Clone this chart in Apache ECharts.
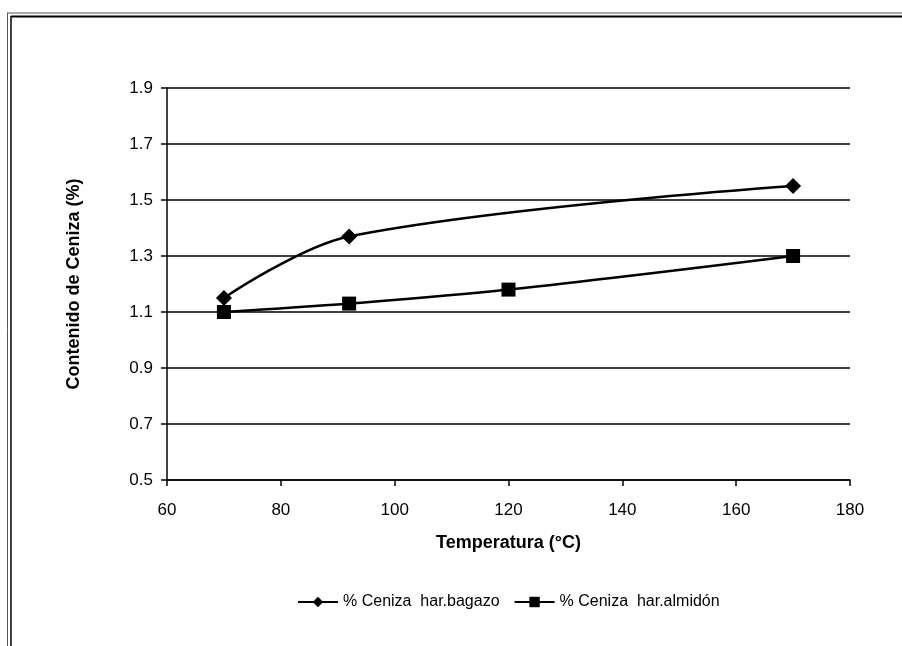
<!DOCTYPE html>
<html>
<head>
<meta charset="utf-8">
<script src="https://cdn.jsdelivr.net/npm/echarts@6/dist/echarts.min.js"></script>
<style>
html,body{margin:0;padding:0;background:#fff;}
#c{width:902px;height:646px;}
</style>
</head>
<body>
<div id="c"></div>
<script>
// Data
const seriesNames = ['% Ceniza  har.bagazo', '% Ceniza  har.almidón'];
const bagazoX = [70, 92, 170];
const bagazoY = [1.15, 1.37, 1.55];
const almidonX = [70, 92, 120, 170];
const almidonY = [1.10, 1.13, 1.18, 1.30];
const xTicks = [60, 80, 100, 120, 140, 160, 180];
const yTicks = [0.5, 0.7, 0.9, 1.1, 1.3, 1.5, 1.7, 1.9];

const pairs = (xs, ys) => xs.map((x, i) => [x, ys[i]]);
const FONT = 'Liberation Sans, Arial, sans-serif';

const chart = echarts.init(document.getElementById('c'));
chart.setOption({
  animation: false,
  backgroundColor: '#fff',
  grid: { left: 167, right: 52, top: 88, bottom: 166 },
  xAxis: {
    type: 'value',
    min: xTicks[0], max: xTicks[xTicks.length - 1], interval: 20,
    name: 'Temperatura (°C)',
    nameLocation: 'middle', nameGap: 54,
    nameTextStyle: { fontFamily: FONT, fontSize: 18, fontWeight: 'bold', color: '#000' },
    axisLine: { onZero: false, lineStyle: { color: '#000', width: 1.5 } },
    axisTick: { show: true, length: 6, lineStyle: { color: '#000', width: 1.5 } },
    axisLabel: { fontFamily: FONT, fontSize: 17, color: '#000', margin: 22 },
    splitLine: { show: false }
  },
  yAxis: {
    type: 'value',
    min: yTicks[0], max: yTicks[yTicks.length - 1], interval: 0.2,
    name: 'Contenido de Ceniza (%)',
    nameLocation: 'middle', nameGap: 84, nameRotate: 90,
    nameTextStyle: { fontFamily: FONT, fontSize: 18, fontWeight: 'bold', color: '#000' },
    axisLine: { show: true, onZero: false, lineStyle: { color: '#000', width: 1.5 } },
    axisTick: { show: true, length: 6, lineStyle: { color: '#000', width: 1.5 } },
    axisLabel: { fontFamily: FONT, fontSize: 17, color: '#000', margin: 14,
      formatter: v => v.toFixed(1) },
    splitLine: { show: true, lineStyle: { color: '#000', width: 1.5 } }
  },
  legend: {
    top: 589, left: 292,
    itemWidth: 40, itemHeight: 13, itemGap: 14,
    textStyle: { fontFamily: FONT, fontSize: 16, color: '#000' },
    data: seriesNames
  },
  series: [
    {
      name: seriesNames[0], type: 'line', smooth: 0.35,
      data: pairs(bagazoX, bagazoY),
      symbol: 'diamond', symbolSize: 16,
      itemStyle: { color: '#000' },
      lineStyle: { color: '#000', width: 2.5 }
    },
    {
      name: seriesNames[1], type: 'line', smooth: 0.35,
      data: pairs(almidonX, almidonY),
      symbol: 'rect', symbolSize: 14,
      itemStyle: { color: '#000' },
      lineStyle: { color: '#000', width: 2.5 }
    }
  ],
  graphic: [
    { type: 'line', shape: { x1: 7, y1: 13, x2: 902, y2: 13 }, style: { stroke: '#555', lineWidth: 1 } },
    { type: 'line', shape: { x1: 11, y1: 16.5, x2: 902, y2: 16.5 }, style: { stroke: '#000', lineWidth: 2 } },
    { type: 'line', shape: { x1: 7.5, y1: 13, x2: 7.5, y2: 646 }, style: { stroke: '#555', lineWidth: 1 } },
    { type: 'line', shape: { x1: 11, y1: 16, x2: 11, y2: 646 }, style: { stroke: '#000', lineWidth: 1.5 } }
  ]
});
</script>
</body>
</html>
